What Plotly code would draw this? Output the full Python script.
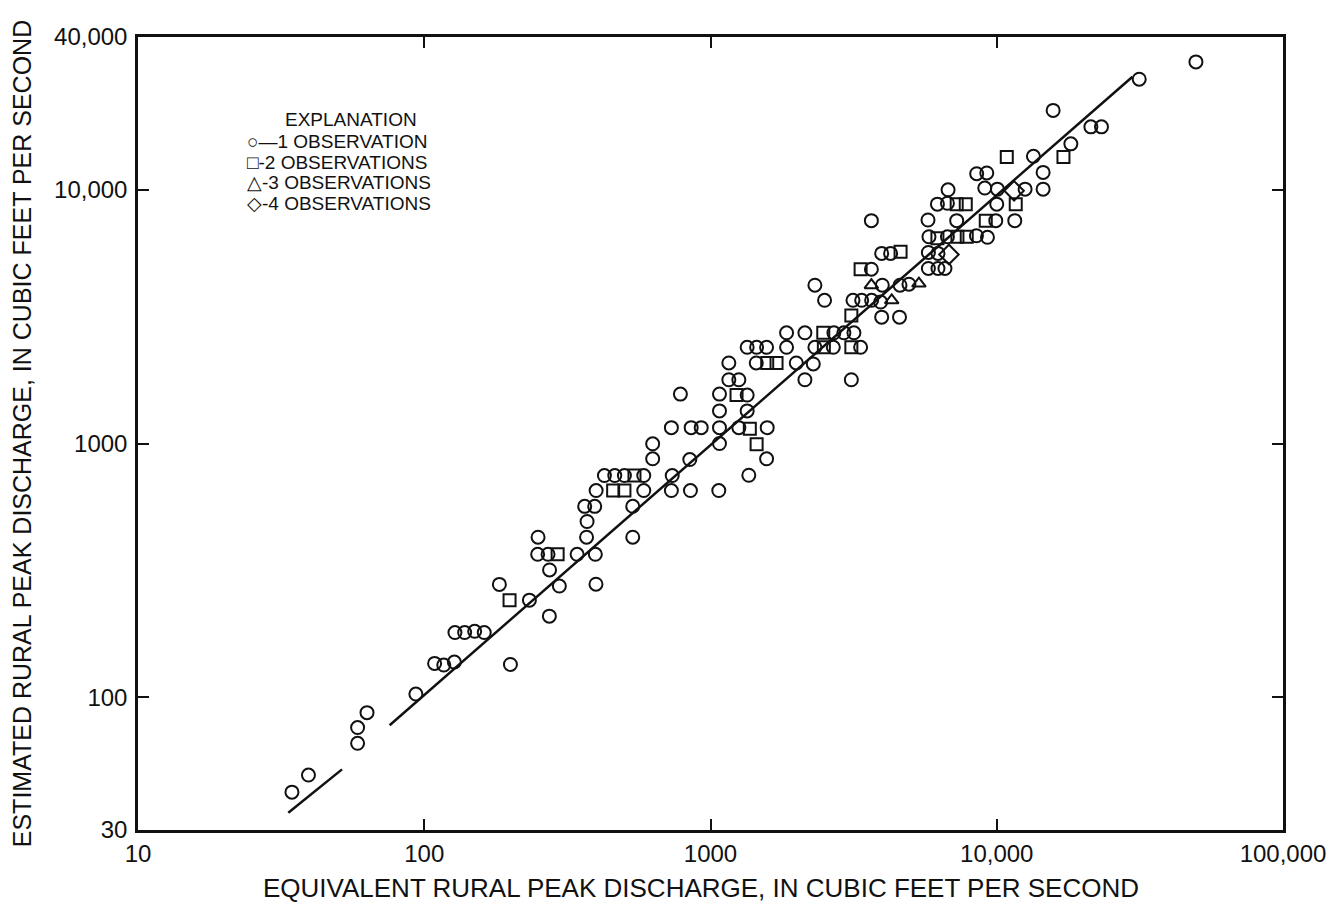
"""Estimated vs equivalent rural peak discharge (log-log scatter)."""

import plotly.graph_objects as go

# --- data (cubic feet per second) ---
circle_x = [34.5, 39.4, 58.5, 58.5, 63.1, 93.5, 108.7, 117, 127.4, 128, 138.4, 150, 162, 200,
            183, 233, 274, 296.5, 273.6, 398, 249, 270.7, 342, 396,
            249.8, 369, 535, 370.5, 363.5, 394, 535,
            398.5, 584.6, 730, 851, 1069,
            426, 463, 500.4, 584.6, 735, 1361,
            628, 846.6, 1570, 628, 1075,
            730, 856, 928, 1075, 1256, 1578,
            1075, 1343, 785, 1075, 1343,
            1159, 1256, 2137, 1159,
            3105, 1445, 1994, 2286,
            1343, 1449, 1570, 1844, 2316, 2686, 3345,
            1844, 2137, 2698, 2924, 3170,
            3963, 4574,
            2503, 3146, 3374, 3655, 3930,
            2316, 3983, 4592, 4935,
            3648, 3648, 3963, 4258, 5770, 6233,
            5770, 6233, 6593,
            5797, 6725, 8493, 9280,
            5752, 7245, 9920, 11560,
            6205, 6725, 10000,
            6760, 9082, 10050, 12560, 14520, 14520,
            8510, 9230,
            13430, 18150, 21320, 23220, 15740, 31460, 49640]
circle_y = [42.3, 49.4, 65.9, 76.0, 87.0, 103, 136, 134, 137.7, 180, 180, 182, 180, 134.7,
            278.6, 241.5, 317.6, 274.4, 208.8, 279, 366, 366, 366, 366,
            427.5, 427.5, 427.5, 493, 565.6, 565.6, 566,
            652.7, 652.7, 652.7, 652.7, 652.7,
            748, 748, 748, 748, 748, 750,
            871, 865, 871, 998, 1000,
            1155, 1155, 1155, 1155, 1155, 1155,
            1345, 1345, 1566, 1566, 1553,
            1784, 1784, 1784, 2078,
            1784, 2078, 2078, 2059,
            2395, 2395, 2395, 2395, 2395, 2395, 2395,
            2732, 2732, 2732, 2732, 2732,
            3148, 3148,
            3668, 3668, 3668, 3668, 3611,
            4207, 4207, 4207, 4246,
            4864, 7556, 5614, 5614, 5664, 5614,
            4898, 4898, 4898,
            6531, 6531, 6590, 6498,
            7602, 7556, 7556, 7556,
            8779, 8851, 8779,
            10000, 10160, 10060, 10060, 10060, 11710,
            11570, 11650,
            13550, 15170, 17700, 17700, 20550, 27270, 31920]

square_x = [198.6, 292.4, 457, 500.4, 542.5, 1449, 1372, 1233, 1578, 1701, 2489, 3105, 2477,
            3105, 3345, 4613, 6205, 7289, 7855, 9153, 7245, 7793, 11650, 10840, 17100]
square_y = [241.5, 366, 652.7, 652.7, 748, 993, 1145, 1553, 2078, 2078, 2395, 2395, 2732,
            3199, 4864, 5697, 6444, 6531, 6531, 7556, 8779, 8779, 8779, 13480, 13480]

triangle_x = [4296, 3648, 5346]
triangle_y = [3668, 4207, 4272]

diamond_x = [6807, 11495]
diamond_y = [5559, 9910]

# regression line (broken in the original near 50-75 cfs)
line_x = [33.5, 51.6, None, 75.7, 29800]
line_y = [35.1, 52.0, None, 77.6, 27900]

x_ticks = [10, 100, 1000, 10000, 100000]
x_labels = ["10", "100", "1000", "10,000", "100,000"]
y_ticks = [30, 100, 1000, 10000, 40000]
y_labels = ["30", "100", "1000", "10,000", "40,000"]

FONT = "Liberation Sans, Arial, sans-serif"
BLACK = "#111111"

# the page body has an 8 px margin, so the figure is drawn 8 px smaller/offset
W, H, PAD = 1335, 910, 8
PLOT_TOP, PLOT_BOTTOM, PLOT_LEFT, PLOT_RIGHT = 37 - PAD, 830 - PAD, 138 - PAD, 1283 - PAD


def paper_x(page_px):
    return (page_px - PAD - PLOT_LEFT) / (PLOT_RIGHT - PLOT_LEFT)


def paper_y(page_px):
    return 1 - (page_px - PAD - PLOT_TOP) / (PLOT_BOTTOM - PLOT_TOP)


fig = go.Figure()
fig.add_trace(go.Scatter(x=line_x, y=line_y, mode="lines",
                         line=dict(color=BLACK, width=2.5), hoverinfo="skip"))


def marker_trace(x, y, symbol, size, name):
    return go.Scatter(
        x=x, y=y, mode="markers", name=name,
        marker=dict(symbol=symbol, size=size, color=BLACK,
                    line=dict(color=BLACK, width=2)),
    )


fig.add_trace(marker_trace(circle_x, circle_y, "circle-open", 13, "1 observation"))
fig.add_trace(marker_trace(square_x, square_y, "square-open", 12, "2 observations"))
fig.add_trace(marker_trace(triangle_x, triangle_y, "triangle-up-open", 12, "3 observations"))
fig.add_trace(marker_trace(diamond_x, diamond_y, "diamond-open", 15, "4 observations"))

# explanation box (text legend as in the original), positions in page pixels
legend_lines = [
    ("EXPLANATION", 283, 119),
    ("\u25CB\u20141 OBSERVATION", 245, 141),
    ("\u25A1-2 OBSERVATIONS", 245, 162),
    ("\u25B3-3 OBSERVATIONS", 245, 183),
    ("\u25C7-4 OBSERVATIONS", 245, 203),
]
for text, xpx, ypx in legend_lines:
    fig.add_annotation(
        text=text, xref="paper", yref="paper",
        x=paper_x(xpx), y=paper_y(ypx),
        xanchor="left", yanchor="middle", showarrow=False,
        font=dict(family=FONT, size=19, color=BLACK),
    )

# x-axis title (slightly left of the plot centre in the original)
fig.add_annotation(
    text="EQUIVALENT RURAL PEAK DISCHARGE, IN CUBIC FEET PER SECOND",
    xref="paper", yref="paper", x=paper_x(701), y=paper_y(888),
    xanchor="center", yanchor="middle", showarrow=False,
    font=dict(family=FONT, size=26, color=BLACK),
)

axis_common = dict(
    type="log", showgrid=False, zeroline=False, automargin=False,
    showline=True, linecolor=BLACK, linewidth=2.5, mirror="ticks",
    ticks="inside", ticklen=11, tickwidth=2, tickcolor=BLACK,
    tickfont=dict(family=FONT, size=24, color=BLACK),
)

fig.update_layout(
    width=W - 2 * PAD, height=H - 2 * PAD,
    margin=dict(l=PLOT_LEFT, r=W - 2 * PAD - PLOT_RIGHT,
                t=PLOT_TOP, b=H - 2 * PAD - PLOT_BOTTOM),
    showlegend=False,
    plot_bgcolor="white", paper_bgcolor="white",
    font=dict(family=FONT, color=BLACK),
    xaxis=dict(axis_common, range=[1, 5], tickvals=x_ticks, ticktext=x_labels,
               ticklabelstandoff=0),
    yaxis=dict(axis_common, range=[1.4771, 4.6021], tickvals=y_ticks, ticktext=y_labels,
               ticklabelstandoff=3,
               title=dict(text="ESTIMATED RURAL PEAK DISCHARGE, IN CUBIC FEET PER SECOND",
                          font=dict(family=FONT, size=25, color=BLACK), standoff=28)),
)

fig.write_html("out.html")
